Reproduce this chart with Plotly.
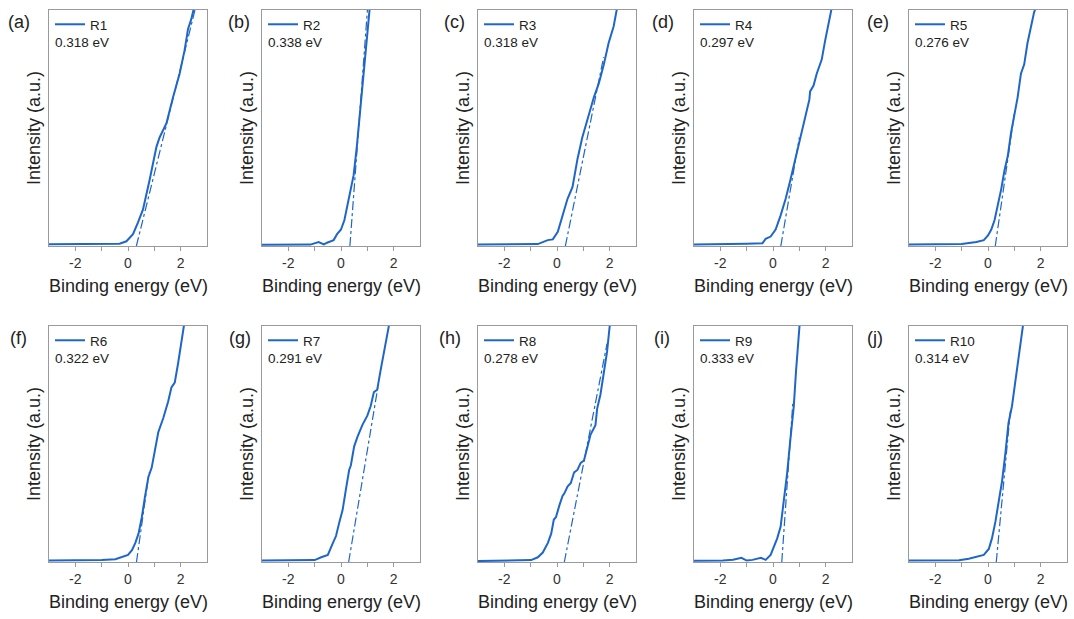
import plotly.graph_objects as go

W, H = 1074, 619

panel_tags = ["(a)", "(b)", "(c)", "(d)", "(e)", "(f)", "(g)", "(h)", "(i)", "(j)"]
sample_names = ["R1", "R2", "R3", "R4", "R5", "R6", "R7", "R8", "R9", "R10"]
onset_labels = ["0.318 eV", "0.338 eV", "0.318 eV", "0.297 eV", "0.276 eV",
                "0.322 eV", "0.291 eV", "0.278 eV", "0.333 eV", "0.314 eV"]

# spectra (binding energy in eV, intensity normalised to the frame)
energy_r1 = [-3.0, -2.0, -1.0, -0.32, -0.06, 0.19, 0.38, 0.57, 0.82, 1.0, 1.08, 1.2, 1.46, 1.71, 1.96, 2.15, 2.28, 2.4, 2.53]
intensity_r1 = [0.007, 0.008, 0.009, 0.01, 0.02, 0.05, 0.1, 0.155, 0.28, 0.38, 0.42, 0.46, 0.52, 0.63, 0.73, 0.83, 0.92, 0.96, 1.02]

energy_r2 = [-3.0, -2.0, -1.16, -0.85, -0.65, -0.53, -0.28, -0.15, 0.0, 0.13, 0.29, 0.48, 0.6, 0.73, 0.86, 0.98, 1.1]
intensity_r2 = [0.005, 0.006, 0.006, 0.017, 0.007, 0.014, 0.025, 0.05, 0.07, 0.11, 0.2, 0.3, 0.42, 0.58, 0.73, 0.89, 1.02]

energy_r3 = [-3.0, -2.0, -1.0, -0.73, -0.35, -0.16, 0.03, 0.21, 0.4, 0.59, 0.78, 0.96, 1.09, 1.21, 1.4, 1.59, 1.78, 1.96, 2.15, 2.3]
intensity_r3 = [0.006, 0.007, 0.006, 0.008, 0.025, 0.028, 0.06, 0.13, 0.2, 0.25, 0.37, 0.46, 0.51, 0.56, 0.63, 0.69, 0.77, 0.86, 0.93, 1.02]

energy_r4 = [-3.0, -2.0, -1.0, -0.4, -0.28, -0.09, 0.1, 0.29, 0.48, 0.66, 0.85, 1.04, 1.23, 1.38, 1.41, 1.54, 1.66, 1.85, 1.98, 2.1, 2.25]
intensity_r4 = [0.006, 0.007, 0.01, 0.012, 0.03, 0.04, 0.07, 0.13, 0.2, 0.28, 0.37, 0.45, 0.54, 0.62, 0.655, 0.68, 0.73, 0.79, 0.87, 0.94, 1.02]

energy_r5 = [-3.0, -2.0, -1.0, -0.44, -0.16, 0.0, 0.125, 0.25, 0.375, 0.5, 0.625, 0.75, 0.875, 1.0, 1.125, 1.25, 1.375, 1.5, 1.625, 1.75, 1.85]
intensity_r5 = [0.006, 0.008, 0.008, 0.017, 0.025, 0.045, 0.07, 0.11, 0.17, 0.24, 0.32, 0.38, 0.48, 0.56, 0.63, 0.73, 0.77, 0.86, 0.93, 0.99, 1.02]

energy_r6 = [-3.0, -2.0, -1.0, -0.48, -0.16, 0.0, 0.15, 0.275, 0.4, 0.525, 0.65, 0.775, 0.9, 1.025, 1.15, 1.34, 1.525, 1.65, 1.775, 1.9, 2.025, 2.15]
intensity_r6 = [0.006, 0.007, 0.009, 0.012, 0.025, 0.03, 0.05, 0.08, 0.12, 0.19, 0.28, 0.36, 0.4, 0.48, 0.55, 0.61, 0.68, 0.74, 0.76, 0.84, 0.92, 1.02]

energy_r7 = [-3.0, -2.0, -1.0, -0.75, -0.5, -0.31, -0.19, -0.06, 0.06, 0.19, 0.31, 0.375, 0.5, 0.625, 0.81, 1.0, 1.125, 1.25, 1.375, 1.5, 1.625, 1.75, 1.85]
intensity_r7 = [0.006, 0.008, 0.008, 0.02, 0.03, 0.08, 0.11, 0.17, 0.22, 0.31, 0.39, 0.41, 0.49, 0.53, 0.58, 0.62, 0.66, 0.72, 0.73, 0.81, 0.88, 0.96, 1.02]

energy_r8 = [-3.0, -2.0, -1.35, -0.98, -0.73, -0.54, -0.35, -0.22, -0.12, -0.04, 0.09, 0.21, 0.275, 0.4, 0.525, 0.65, 0.775, 0.9, 1.025, 1.15, 1.275, 1.46, 1.525, 1.65, 1.775, 1.9, 2.02]
intensity_r8 = [0.004, 0.005, 0.005, 0.008, 0.02, 0.04, 0.08, 0.12, 0.18, 0.19, 0.24, 0.28, 0.29, 0.32, 0.335, 0.38, 0.39, 0.42, 0.43, 0.49, 0.54, 0.58, 0.65, 0.71, 0.8, 0.89, 1.02]

energy_r9 = [-3.0, -2.0, -1.9, -1.52, -1.2, -1.0, -0.78, -0.46, -0.28, -0.09, 0.04, 0.16, 0.29, 0.41, 0.54, 0.66, 0.79, 0.875, 0.95, 1.02]
intensity_r9 = [0.005, 0.006, 0.006, 0.01, 0.018, 0.006, 0.009, 0.018, 0.009, 0.03, 0.07, 0.1, 0.15, 0.25, 0.38, 0.52, 0.66, 0.81, 0.94, 1.02]

energy_r10 = [-3.0, -2.0, -1.1, -0.73, -0.54, -0.35, -0.16, 0.03, 0.15, 0.28, 0.4, 0.53, 0.66, 0.78, 0.91, 1.04, 1.16, 1.29, 1.35]
intensity_r10 = [0.006, 0.007, 0.007, 0.014, 0.02, 0.025, 0.03, 0.055, 0.1, 0.17, 0.25, 0.34, 0.46, 0.59, 0.66, 0.76, 0.86, 0.97, 1.02]

# linear extrapolation lines (start at the onset, end where they join the curve)
fit_energy = [[0.318, 2.7], [0.338, 1.05], [0.318, 1.77], [0.297, 1.0], [0.276, 1.0],
              [0.322, 0.8], [0.291, 1.4], [0.278, 1.9], [0.333, 0.75], [0.314, 0.85]]
fit_intensity = [[0.0, 1.07], [0.0, 1.07], [0.0, 0.8], [0.0, 0.46], [0.0, 0.56],
                 [0.0, 0.38], [0.0, 0.74], [0.0, 0.925], [0.0, 0.67], [0.0, 0.64]]

energies = [energy_r1, energy_r2, energy_r3, energy_r4, energy_r5,
            energy_r6, energy_r7, energy_r8, energy_r9, energy_r10]
intensities = [intensity_r1, intensity_r2, intensity_r3, intensity_r4, intensity_r5,
               intensity_r6, intensity_r7, intensity_r8, intensity_r9, intensity_r10]

x_tick_vals = [-2, 0, 2]
x_tick_text = ["-2", "0", "2"]

BLUE = "#1f66c9"
FRAME = "#9a9a9a"
FONT = "Liberation Sans, Arial, sans-serif"

# panel geometry in pixels
col_left = [49, 262, 478, 694, 909]
row_top = [10, 326]
pw, ph = 158, 236
tag_x = [19, 239, 454, 663, 878, 18, 240, 450, 662, 875]


def px(x):
    return x / W


def py(y):
    return 1 - y / H


fig = go.Figure()
annotations = []
layout = {}

for i in range(10):
    r, c = divmod(i, 5)
    left, top = col_left[c], row_top[r]
    n = "" if i == 0 else str(i + 1)
    leg = "legend" + n

    fig.add_trace(go.Scatter(
        x=energies[i], y=intensities[i], mode="lines", name=sample_names[i],
        line=dict(color=BLUE, width=2), xaxis="x" + n, yaxis="y" + n,
        legend=leg, showlegend=True
    ))
    fig.add_trace(go.Scatter(
        x=fit_energy[i], y=fit_intensity[i], mode="lines",
        line=dict(color=BLUE, width=1.2, dash="dashdot"),
        xaxis="x" + n, yaxis="y" + n, showlegend=False
    ))

    layout["xaxis" + n] = dict(
        domain=[px(left), px(left + pw)], anchor="y" + n, range=[-3, 3],
        showline=True, mirror=True, linecolor=FRAME, linewidth=1,
        showgrid=False, zeroline=False, ticks="outside", ticklen=4,
        tickcolor=FRAME, tickvals=x_tick_vals, ticktext=x_tick_text,
        tickfont=dict(size=14, color="#333333", family=FONT),
        minor=dict(tickvals=[-1, 1], ticks="outside", ticklen=4, tickcolor=FRAME),
    )
    layout["yaxis" + n] = dict(
        domain=[py(top + ph), py(top)], anchor="x" + n, range=[0, 1],
        showline=True, mirror=True, linecolor=FRAME, linewidth=1,
        showgrid=False, zeroline=False, showticklabels=False, ticks="",
    )
    layout[leg] = dict(
        x=px(left + 1), y=py(top - 1), xanchor="left", yanchor="top",
        bgcolor="rgba(0,0,0,0)", font=dict(size=13.5, color="#222222", family=FONT),
        itemwidth=30, tracegroupgap=0,
    )

    annotations.append(dict(
        x=px(left + 4), y=py(top + 32), xref="paper", yref="paper",
        text=onset_labels[i], showarrow=False, xanchor="left", yanchor="middle",
        font=dict(size=13.5, color="#222222", family=FONT),
    ))
    annotations.append(dict(
        x=px(tag_x[i]), y=py(top + 12), xref="paper", yref="paper",
        text=panel_tags[i], showarrow=False, xanchor="center", yanchor="middle",
        font=dict(size=18, color="#222222", family=FONT),
    ))
    annotations.append(dict(
        x=px(left + pw / 2), y=py(top + ph + 40), xref="paper", yref="paper",
        text="Binding energy (eV)", showarrow=False, xanchor="center", yanchor="middle",
        font=dict(size=18, color="#222222", family=FONT),
    ))
    annotations.append(dict(
        x=px(left - 15), y=py(top + ph / 2), xref="paper", yref="paper",
        text="Intensity (a.u.)", showarrow=False, textangle=-90,
        xanchor="center", yanchor="middle",
        font=dict(size=18, color="#222222", family=FONT),
    ))

fig.update_layout(
    width=W, height=H,
    margin=dict(l=0, r=0, t=0, b=0),
    paper_bgcolor="white", plot_bgcolor="white",
    annotations=annotations,
    font=dict(family=FONT),
    **layout
)

# drop the default page margin so the figure sits at the window's corner
fig.write_html("out.html", config={"displayModeBar": False},
               post_script="document.body.style.margin='0px';")
